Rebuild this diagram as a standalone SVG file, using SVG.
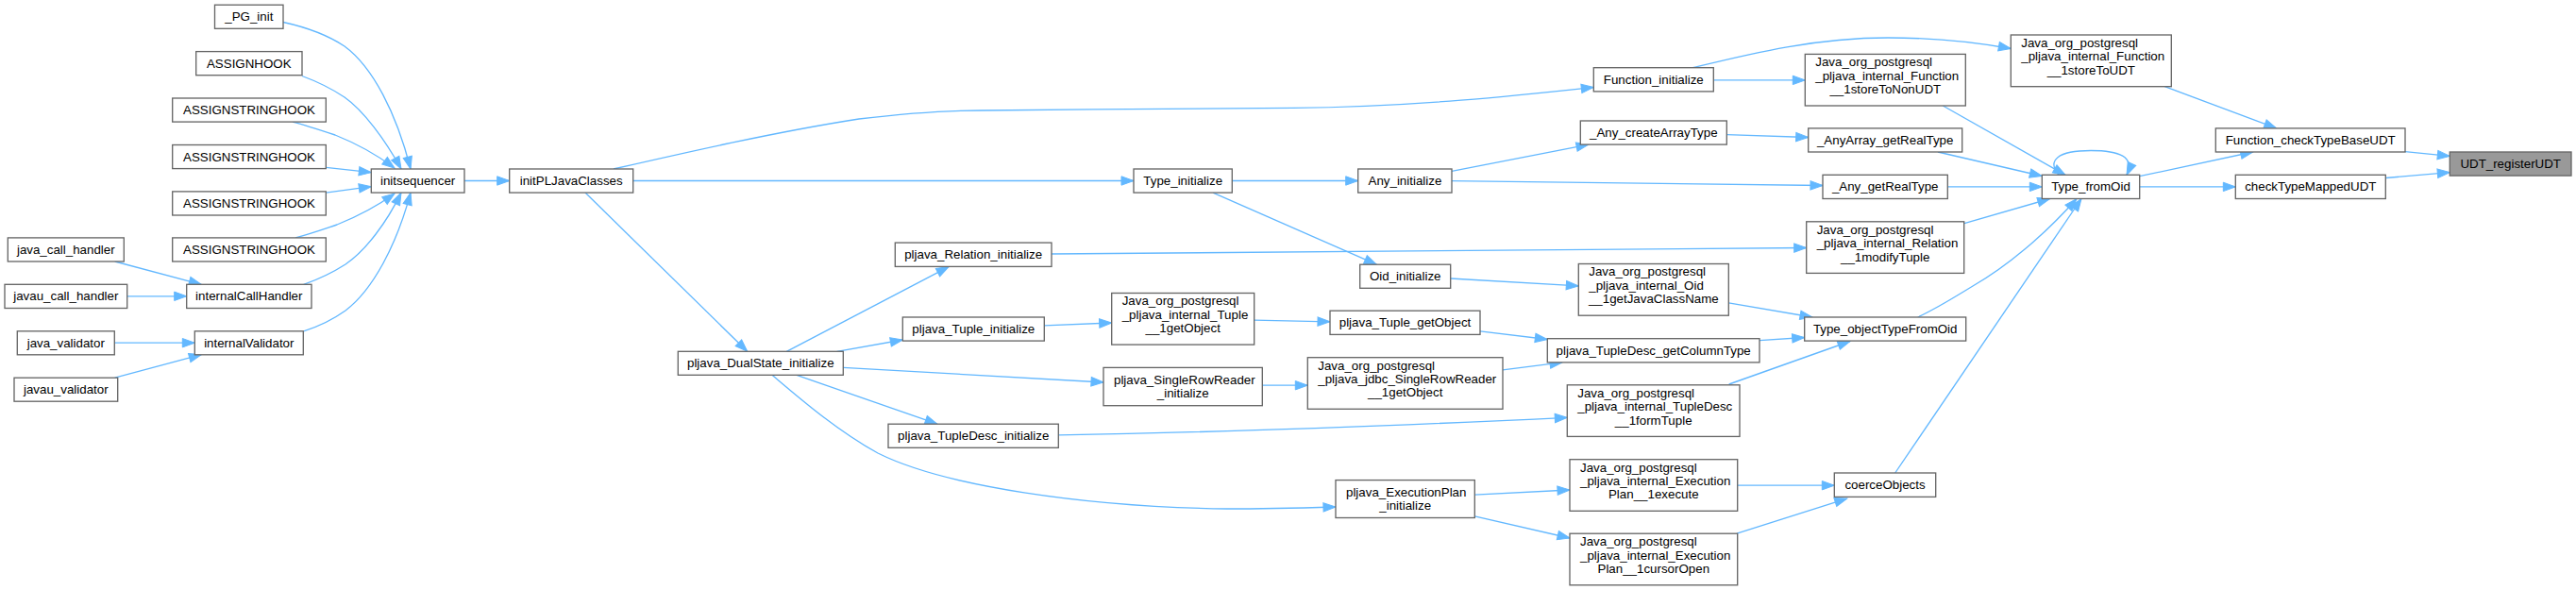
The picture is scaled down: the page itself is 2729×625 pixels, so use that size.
<svg xmlns="http://www.w3.org/2000/svg" width="2729" height="625" viewBox="0 0 2729 625">
<defs>
<style>
.n rect{fill:#ffffff;stroke:#666666;stroke-width:1.33}
.n.hl rect{fill:#999999}
text{font-family:"Liberation Sans",Arial,Helvetica,sans-serif;font-size:13.33px;fill:#000000}
.c{text-anchor:middle}
.e path{fill:none;stroke:#63b8ff;stroke-width:1.33;marker-end:url(#ah)}
</style>
<marker id="ah" markerUnits="userSpaceOnUse" markerWidth="16" markerHeight="12" refX="13" refY="4.7" orient="auto" overflow="visible">
<path d="M0,0 L13,4.7 L0,9.4 Z" fill="#63b8ff" stroke="#63b8ff" stroke-width="1"/>
</marker>
</defs>
<rect x="0" y="0" width="2729" height="625" fill="#ffffff"/>

<g id="edges" class="e">
<path d="M300,23.5 C325,29 347,37 365,49 C395,71 420,120 435,179"/>
<path d="M320,80.5 C335,86 350,93 365,103 C385,117 408,148 425,179"/>
<path d="M310,129.1 C325,133 340,138 355,143 C375,151 398,163 418,178"/>
<path d="M345.3,177.4 L393.3,182.7"/>
<path d="M345.3,204.1 L393.3,197.7"/>
<path d="M313,251.9 C328,248 342,243 357,238 C377,230 400,218 418,205"/>
<path d="M321.7,301.3 C337,296 352,289 366,280 C388,265 410,235 425,204.1"/>
<path d="M321.7,350.8 C337,346 352,339 366,329 C395,307 420,260 435,204.1"/>
<path d="M121.7,277 L213.3,301.3"/>
<path d="M134.7,313.8 L197.7,313.8"/>
<path d="M121.3,363.2 L206.3,363.2"/>
<path d="M121.7,400.2 L213.3,375.7"/>
<path d="M492,191.5 L539.7,191.5"/>
<path d="M650,179 C720,163 820,140 910,126 C960,120 1000,117 1040,117 C1150,115.5 1300,115 1370,114.4 C1500,113 1610,101 1688.3,92.5"/>
<path d="M670.7,191.5 L1201,191.5"/>
<path d="M620,204.1 L791.7,372.3"/>
<path d="M833.3,372.3 L1005,282.6"/>
<path d="M886.7,372.3 L956.3,360"/>
<path d="M893.3,389.4 L1169,405"/>
<path d="M843.3,397.2 L993,449.2"/>
<path d="M818,397.2 C845,420 885,455 930,480 C1000,515 1150,537 1300,539 C1340,539 1380,538 1415,537"/>
<path d="M1305.3,191.5 L1438.7,191.5"/>
<path d="M1285,204.1 L1458.3,280.2"/>
<path d="M1114,269 L1913.7,262.5"/>
<path d="M1106.3,344.8 L1177.7,342"/>
<path d="M1328.7,339.2 L1409,340.8"/>
<path d="M1337.3,408.2 L1385.3,408.2"/>
<path d="M1121.3,460.8 C1300,458 1500,450 1660.3,442.4"/>
<path d="M1562.3,524.2 L1663,519"/>
<path d="M1562.3,546.9 L1663,570"/>
<path d="M1793.3,71.7 C1850,58 1920,40 2000,40 C2050,40 2100,46 2130.3,51.5"/>
<path d="M1815.3,84.9 L1912.3,84.9"/>
<path d="M1538,181.4 L1683,153.1"/>
<path d="M1538,191.7 L1931,196.5"/>
<path d="M1829.3,142.7 L1915.7,145.5"/>
<path d="M1536.7,295 L1672.3,302.9"/>
<path d="M1568,350.8 L1639.3,359.5"/>
<path d="M1592,391.8 L1655,383.9"/>
<path d="M1831.3,320.9 L1920,336"/>
<path d="M1864,360.7 L1911.7,357.5"/>
<path d="M1831.7,407 L1960,361.5"/>
<path d="M1840.7,514.2 L1943.3,514.2"/>
<path d="M1840,565.2 L1956.7,528.1"/>
<path d="M2058.3,112 L2188,185.3"/>
<path d="M2053,161 L2163.3,186.5"/>
<path d="M2063.3,197.9 L2163.3,197.9"/>
<path d="M2081,236.7 L2171.7,210.5"/>
<path d="M2031.7,336 C2055,325 2075,312 2090,303 C2125,283 2165,250 2200,210.5"/>
<path d="M2007.7,501 L2205,210.5"/>
<path d="M2181,185.3 C2168,170 2180,159.5 2215,159.5 C2245,159.5 2262,166 2253,185.3"/>
<path d="M2266.7,186.7 L2386.7,161"/>
<path d="M2266.7,197.9 L2368.3,197.9"/>
<path d="M2293.3,91.7 L2411.7,135.9"/>
<path d="M2548,160.6 L2595.3,165.4"/>
<path d="M2527.3,188.5 L2595.3,182.6"/>
</g>

<g id="n_PG_init" class="n"><rect x="227.5" y="5.2" width="72.5" height="25.1"/><text class="c" x="263.8" y="22.3">_PG_init</text></g>
<g id="nASSIGNHOOK" class="n"><rect x="207.7" y="54.6" width="112.3" height="25.1"/><text class="c" x="263.8" y="71.7">ASSIGNHOOK</text></g>
<g id="nASSIGNSTRINGHOOK1" class="n"><rect x="182.7" y="104" width="162.6" height="25.1"/><text class="c" x="264" y="121.1">ASSIGNSTRINGHOOK</text></g>
<g id="nASSIGNSTRINGHOOK2" class="n"><rect x="182.7" y="153.5" width="162.6" height="25.1"/><text class="c" x="264" y="170.6">ASSIGNSTRINGHOOK</text></g>
<g id="nASSIGNSTRINGHOOK3" class="n"><rect x="182.7" y="202.9" width="162.6" height="25.1"/><text class="c" x="264" y="220">ASSIGNSTRINGHOOK</text></g>
<g id="nASSIGNSTRINGHOOK4" class="n"><rect x="182.7" y="251.9" width="162.6" height="25.1"/><text class="c" x="264" y="269">ASSIGNSTRINGHOOK</text></g>
<g id="ninternalCallHandler" class="n"><rect x="197.7" y="301.3" width="132.3" height="25.2"/><text class="c" x="263.8" y="318.4">internalCallHandler</text></g>
<g id="ninternalValidator" class="n"><rect x="206.3" y="350.8" width="115" height="25"/><text class="c" x="263.8" y="367.8">internalValidator</text></g>
<g id="njava_call_handler" class="n"><rect x="8.3" y="251.9" width="123" height="25.1"/><text class="c" x="69.8" y="269">java_call_handler</text></g>
<g id="njavau_call_handler" class="n"><rect x="5" y="301.3" width="129.7" height="25.2"/><text class="c" x="69.8" y="318.4">javau_call_handler</text></g>
<g id="njava_validator" class="n"><rect x="18.3" y="350.8" width="103" height="25"/><text class="c" x="69.8" y="367.8">java_validator</text></g>
<g id="njavau_validator" class="n"><rect x="15" y="400.2" width="109.7" height="25"/><text class="c" x="69.8" y="417.2">javau_validator</text></g>
<g id="ninitsequencer" class="n"><rect x="393.3" y="179" width="98.7" height="25.1"/><text class="c" x="442.6" y="196.1">initsequencer</text></g>
<g id="ninitPLJavaClasses" class="n"><rect x="539.7" y="179" width="131" height="25.1"/><text class="c" x="605.2" y="196.1">initPLJavaClasses</text></g>
<g id="npljava_DualState_initialize" class="n"><rect x="718.3" y="372.3" width="175" height="25"/><text class="c" x="805.8" y="389.3">pljava_DualState_initialize</text></g>
<g id="nType_initialize" class="n"><rect x="1201" y="179" width="104.3" height="25.1"/><text class="c" x="1253.2" y="196.1">Type_initialize</text></g>
<g id="npljava_Relation_initialize" class="n"><rect x="948.3" y="257.1" width="165.7" height="25.3"/><text class="c" x="1031.2" y="274.3">pljava_Relation_initialize</text></g>
<g id="npljava_Tuple_initialize" class="n"><rect x="956.3" y="336" width="150" height="25.1"/><text class="c" x="1031.3" y="353.1">pljava_Tuple_initialize</text></g>
<g id="nTuple_1getObject" class="n"><rect x="1177.7" y="310.5" width="151" height="54.6"/><text x="1188.7" y="323.4">Java_org_postgresql</text><text x="1188.7" y="337.8">_pljava_internal_Tuple</text><text class="c" x="1253.2" y="352.2">__1getObject</text></g>
<g id="npljava_SingleRowReader_initialize" class="n"><rect x="1169" y="389.4" width="168.3" height="40.3"/><text x="1180" y="406.8">pljava_SingleRowReader</text><text class="c" x="1253.2" y="421.2">_initialize</text></g>
<g id="npljava_TupleDesc_initialize" class="n"><rect x="941" y="449.2" width="180.3" height="25.1"/><text class="c" x="1031.2" y="466.3">pljava_TupleDesc_initialize</text></g>
<g id="nFunction_initialize" class="n"><rect x="1688.3" y="71.7" width="127" height="25.2"/><text class="c" x="1751.8" y="88.8">Function_initialize</text></g>
<g id="n_Any_createArrayType" class="n"><rect x="1674.3" y="128" width="155" height="25.1"/><text class="c" x="1751.8" y="145.1">_Any_createArrayType</text></g>
<g id="nAny_initialize" class="n"><rect x="1438.7" y="179" width="99.3" height="25.1"/><text class="c" x="1488.4" y="196.1">Any_initialize</text></g>
<g id="nOid_initialize" class="n"><rect x="1440.7" y="280.2" width="96" height="25.1"/><text class="c" x="1488.7" y="297.3">Oid_initialize</text></g>
<g id="nOid_1getJavaClassName" class="n"><rect x="1672.3" y="279.5" width="159" height="54.7"/><text x="1683.3" y="292.4">Java_org_postgresql</text><text x="1683.3" y="306.8">_pljava_internal_Oid</text><text class="c" x="1751.8" y="321.2">__1getJavaClassName</text></g>
<g id="npljava_Tuple_getObject" class="n"><rect x="1409" y="329.2" width="159" height="25.2"/><text class="c" x="1488.5" y="346.3">pljava_Tuple_getObject</text></g>
<g id="npljava_TupleDesc_getColumnType" class="n"><rect x="1639.3" y="358.7" width="224.7" height="25.2"/><text class="c" x="1751.7" y="375.8">pljava_TupleDesc_getColumnType</text></g>
<g id="nSingleRowReader_1getObject" class="n"><rect x="1385.3" y="378.7" width="206.7" height="54.6"/><text x="1396.3" y="391.6">Java_org_postgresql</text><text x="1396.3" y="406">_pljava_jdbc_SingleRowReader</text><text class="c" x="1488.7" y="420.4">__1getObject</text></g>
<g id="nTupleDesc_1formTuple" class="n"><rect x="1660.3" y="407.8" width="182.7" height="54.6"/><text x="1671.3" y="420.7">Java_org_postgresql</text><text x="1671.3" y="435.1">_pljava_internal_TupleDesc</text><text class="c" x="1751.7" y="449.5">__1formTuple</text></g>
<g id="npljava_ExecutionPlan_initialize" class="n"><rect x="1415" y="508.6" width="147.3" height="39.9"/><text x="1426" y="525.8">pljava_ExecutionPlan</text><text class="c" x="1488.7" y="540.2">_initialize</text></g>
<g id="nExecutionPlan_1execute" class="n"><rect x="1663" y="486.7" width="177.7" height="54.6"/><text x="1674" y="499.6">Java_org_postgresql</text><text x="1674" y="514">_pljava_internal_Execution</text><text class="c" x="1751.8" y="528.4">Plan__1execute</text></g>
<g id="nExecutionPlan_1cursorOpen" class="n"><rect x="1663" y="565.2" width="177.7" height="54.6"/><text x="1674" y="578.1">Java_org_postgresql</text><text x="1674" y="592.5">_pljava_internal_Execution</text><text class="c" x="1751.8" y="606.9">Plan__1cursorOpen</text></g>
<g id="nFunction_1storeToNonUDT" class="n"><rect x="1912.3" y="57.4" width="170" height="54.6"/><text x="1923.3" y="70.3">Java_org_postgresql</text><text x="1923.3" y="84.7">_pljava_internal_Function</text><text class="c" x="1997.3" y="99.1">__1storeToNonUDT</text></g>
<g id="nFunction_1storeToUDT" class="n"><rect x="2130.3" y="37" width="170" height="54.7"/><text x="2141.3" y="49.9">Java_org_postgresql</text><text x="2141.3" y="64.3">_pljava_internal_Function</text><text class="c" x="2215.3" y="78.7">__1storeToUDT</text></g>
<g id="n_AnyArray_getRealType" class="n"><rect x="1915.7" y="135.9" width="163" height="25.1"/><text class="c" x="1997.2" y="153">_AnyArray_getRealType</text></g>
<g id="n_Any_getRealType" class="n"><rect x="1931" y="185.3" width="132.3" height="25.2"/><text class="c" x="1997.2" y="202.4">_Any_getRealType</text></g>
<g id="nType_fromOid" class="n"><rect x="2163.3" y="185.3" width="103.4" height="25.2"/><text class="c" x="2215" y="202.4">Type_fromOid</text></g>
<g id="nRelation_1modifyTuple" class="n"><rect x="1913.7" y="234.8" width="167" height="54.6"/><text x="1924.7" y="247.7">Java_org_postgresql</text><text x="1924.7" y="262.1">_pljava_internal_Relation</text><text class="c" x="1997.2" y="276.5">__1modifyTuple</text></g>
<g id="nType_objectTypeFromOid" class="n"><rect x="1911.7" y="336" width="171" height="25.1"/><text class="c" x="1997.2" y="353.1">Type_objectTypeFromOid</text></g>
<g id="ncoerceObjects" class="n"><rect x="1943.3" y="501" width="107.4" height="25.4"/><text class="c" x="1997" y="518.2">coerceObjects</text></g>
<g id="nFunction_checkTypeBaseUDT" class="n"><rect x="2347.3" y="135.9" width="200.7" height="25.1"/><text class="c" x="2447.7" y="153">Function_checkTypeBaseUDT</text></g>
<g id="ncheckTypeMappedUDT" class="n"><rect x="2368.3" y="185.3" width="159" height="25.2"/><text class="c" x="2447.8" y="202.4">checkTypeMappedUDT</text></g>
<g id="nUDT_registerUDT" class="n hl"><rect x="2595.3" y="161" width="128.7" height="25.1"/><text class="c" x="2659.7" y="178.1">UDT_registerUDT</text></g>
</svg>
